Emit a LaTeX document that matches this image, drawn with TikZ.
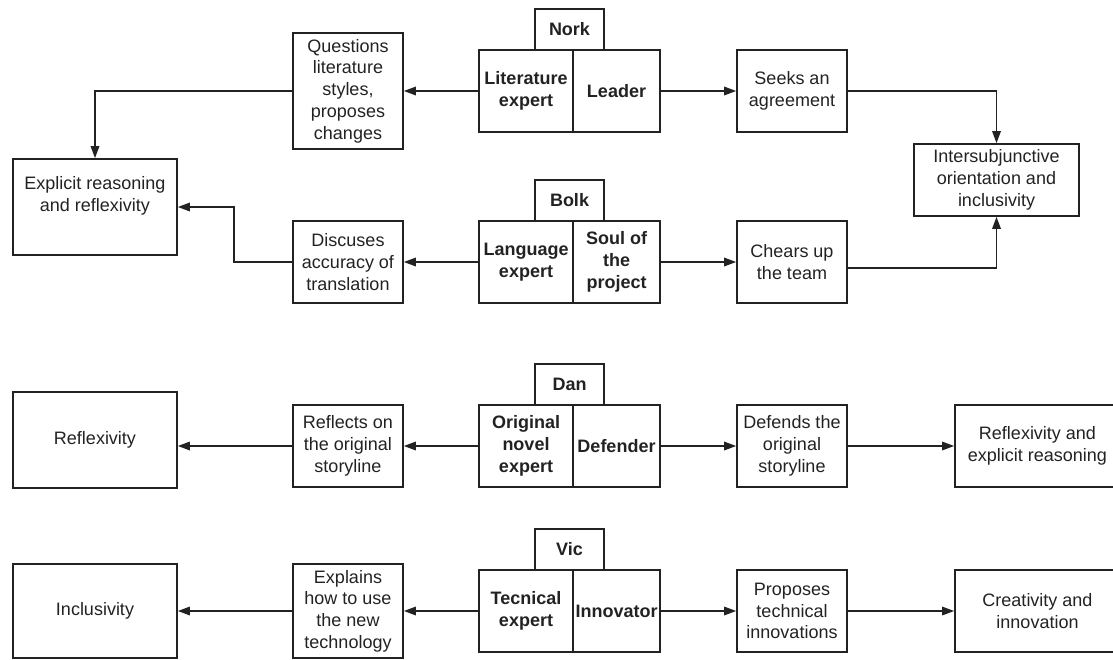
\documentclass[tikz,border=0pt]{standalone}
\usepackage{fontspec}
\setmainfont{Liberation Sans}
\usetikzlibrary{arrows.meta}
\definecolor{ink}{HTML}{222222}
\begin{document}
\begin{tikzpicture}[x=1pt,y=-1pt,
  every node/.style={text=ink},
  base/.style={draw=ink, line width=1.7pt, align=center, inner sep=0pt,
    font=\fontsize{18}{21.7}\selectfont},
  box/.style={base, minimum width=110pt, minimum height=82pt},
  bigbox/.style={base, minimum width=164pt, minimum height=96pt},
  tab/.style={base, font=\fontsize{18}{21.7}\selectfont\bfseries, minimum width=69pt, minimum height=41pt},
  lcell/.style={base, font=\fontsize{18}{21.7}\selectfont\bfseries, minimum width=94pt, minimum height=82pt},
  rcell/.style={base, font=\fontsize{18}{21.7}\selectfont\bfseries, minimum width=87pt, minimum height=82pt},
  conn/.style={draw=ink, line width=1.6pt, -{Triangle[length=12pt,width=8.5pt]}}
]
\useasboundingbox (0,0) rectangle (1113,659);
\clip (0,0) rectangle (1113,659);

% Nork
\node[tab] (nork) at (569.5,29.5) {Nork};
\node[lcell] (litexp) at (526,91) {Literature\\expert};
\node[rcell] (leader) at (616.5,91) {Leader};
\node[box, minimum height=116pt] (questions) at (348,91) {Questions\\literature\\styles,\\proposes\\changes};
\node[box] (seeks) at (792,91) {Seeks an\\agreement};
\node[bigbox] (explicit) at (95,207) {Explicit reasoning\\and reflexivity\\[4pt]};
\node[base, minimum width=165pt, minimum height=72pt] (intersub) at (996.5,180) {Intersubjunctive\\orientation and\\inclusivity};

% Bolk
\node[tab] (bolk) at (569.5,200.5) {Bolk};
\node[lcell] (langexp) at (526,262) {Language\\expert};
\node[rcell] (soul) at (616.5,262) {Soul of\\the\\project};
\node[box] (discuses) at (348,262) {Discuses\\accuracy of\\translation};
\node[box] (chears) at (792,262) {Chears up\\the team};

% Dan
\node[tab] (dan) at (569.5,384.5) {Dan};
\node[lcell] (origexp) at (526,446) {Original\\novel\\expert};
\node[rcell] (defender) at (616.5,446) {Defender};
\node[box] (reflects) at (348,446) {Reflects on\\the original\\storyline};
\node[box] (defends) at (792,446) {Defends the\\original\\storyline};
\node[bigbox] (reflexL) at (95,440) {Reflexivity};
\node[box, minimum width=165pt] (reflexR) at (1037.5,446) {Reflexivity and\\explicit reasoning};

% Vic
\node[tab] (vic) at (569.5,549.5) {Vic};
\node[lcell] (tecexp) at (526,611) {Tecnical\\expert};
\node[rcell] (innovator) at (616.5,611) {Innovator};
\node[box, minimum height=94pt] (explains) at (348,611) {Explains\\how to use\\the new\\technology};
\node[box] (proposes) at (792,611) {Proposes\\technical\\innovations};
\node[bigbox, minimum height=94pt] (inclus) at (95,611) {Inclusivity};
\node[box, minimum width=165pt] (creat) at (1037.5,611) {Creativity and\\innovation};

% connectors
\draw[conn] (litexp.west) -- (questions.east);
\draw[conn] (questions.west) -| (explicit.north);
\draw[conn] (leader.east) -- (seeks.west);
\draw[conn] (seeks.east) -| (intersub.north);

\draw[conn] (langexp.west) -- (discuses.east);
\draw[conn] (discuses.west) -- ++(-58,0) |- (explicit.east);
\draw[conn] (soul.east) -- (chears.west);
\draw[conn] ([yshift=-6pt]chears.east) -| (intersub.south);

\draw[conn] (origexp.west) -- (reflects.east);
\draw[conn] (reflects.west) -- (reflects.west -| reflexL.east);
\draw[conn] (defender.east) -- (defends.west);
\draw[conn] (defends.east) -- (reflexR.west);

\draw[conn] (tecexp.west) -- (explains.east);
\draw[conn] (explains.west) -- (explains.west -| inclus.east);
\draw[conn] (innovator.east) -- (proposes.west);
\draw[conn] (proposes.east) -- (creat.west);
\end{tikzpicture}
\end{document}
